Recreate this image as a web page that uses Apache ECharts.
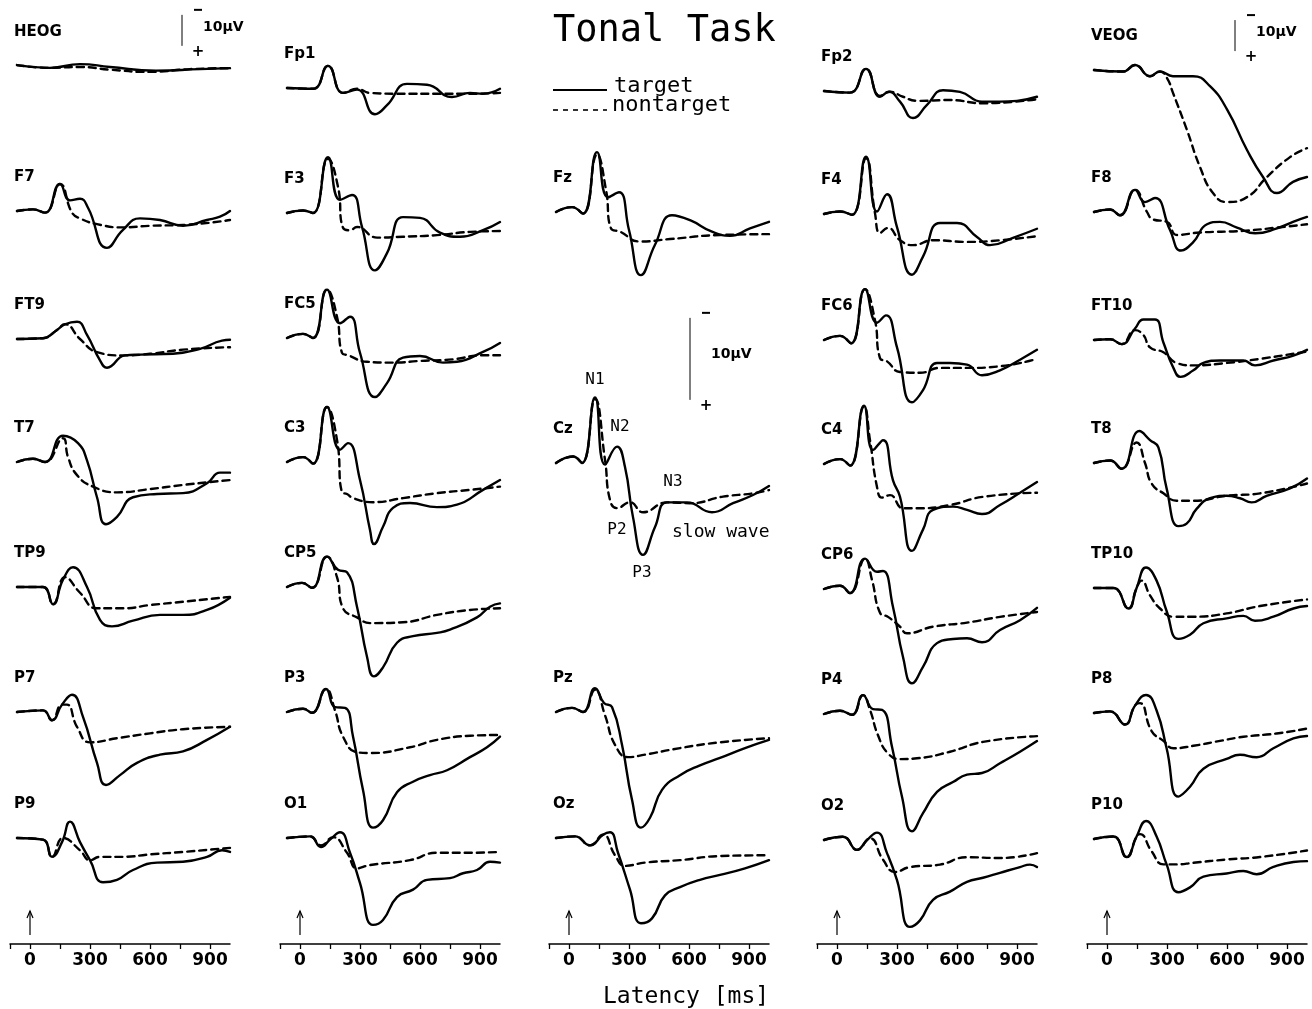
<!DOCTYPE html>
<html>
<head>
	<meta charset="utf-8">
	<title>Tonal Task</title>
	<style>html, body { margin: 0; padding: 0; background: #fff; }</style>
</head>
<body>
<script type="text/javascript" src="https://cdn.jsdelivr.net/npm/echarts@6/dist/echarts.min.js"></script>
<div id="container" style="width: 1312px;height: 1009px;"></div>
<script type="text/javascript">
    // each wave: [latency ms, amplitude µV], negative plotted up
    var HEOG_t = [[-65,-0.3],[100,0.6],[250,-0.6],[400,0.3],[630,1.5],[850,1.0],[1000,0.7]];
    var HEOG_n = [[-65,-0.3],[100,0.6],[250,0.3],[400,1.2],[600,1.9],[800,1.0],[1000,0.7]];
    var F7_t = [[-65,0],[15,-0.2],[75,0.2],[150,-3.3],[200,-1.3],[250,-1.5],[290,-0.4],[385,4.5],[465,2.3],[550,0.9],[650,1.1],[765,1.8],[885,1.1],[950,0.7],[1000,0]];
    var F7_n = [[-65,0],[15,-0.2],[75,0.2],[150,-3.3],[210,0.2],[250,0.9],[335,1.6],[465,2.0],[600,1.8],[765,1.7],[1000,1.1]];
    var FT9_t = [[-65,0],[65,-0.1],[135,-1.1],[175,-1.8],[235,-2.1],[285,-0.5],[350,2.6],[385,3.5],[475,2.0],[550,1.9],[715,1.8],[850,1.2],[960,0.2],[1000,0.1]];
    var FT9_n = [[-65,0],[65,-0.1],[135,-1.1],[175,-1.8],[250,0],[335,1.6],[465,2.0],[600,1.8],[765,1.3],[1000,1.0]];
    var T7_t = [[-65,0],[15,-0.4],[75,0],[165,-3.2],[240,-2.3],[285,-0.2],[335,4.3],[380,7.6],[435,6.7],[515,4.3],[635,3.9],[765,3.8],[885,2.6],[950,1.3],[1000,1.3]];
    var T7_n = [[-65,0],[15,-0.4],[75,0],[165,-2.9],[190,-0.6],[235,1.6],[315,3.0],[435,3.7],[600,3.3],[765,2.8],[1000,2.2]];
    var TP9_t = [[-65,0],[65,0],[115,2.1],[165,-0.9],[215,-2.4],[285,0],[350,4.0],[410,4.8],[515,4.1],[650,3.4],[765,3.4],[885,2.8],[1000,1.3]];
    var TP9_n = [[-65,0],[65,0],[115,2.1],[175,-1.2],[250,0.7],[335,2.6],[465,2.6],[600,2.2],[765,1.8],[1000,1.2]];
    var P7_t = [[-65,0],[65,-0.2],[110,1.0],[160,-0.9],[210,-2.1],[265,0.6],[335,6.2],[380,8.9],[450,7.7],[535,6.2],[650,5.2],[765,4.8],[885,3.4],[1000,1.8]];
    var P7_n = [[-65,0],[65,-0.2],[110,1.0],[160,-0.9],[185,-0.9],[235,1.8],[300,3.7],[435,3.2],[600,2.6],[765,2.1],[1000,1.8]];
    var P9_t = [[-65,0],[65,0.2],[110,2.3],[160,0.5],[200,-2.0],[250,0.5],[300,2.7],[365,5.4],[435,5.1],[515,3.9],[635,3.0],[765,2.9],[885,2.3],[960,1.5],[1000,1.7]];
    var P9_n = [[-65,0],[65,0.2],[110,2.3],[165,0.0],[250,1.5],[300,2.7],[350,2.3],[465,2.3],[600,2.0],[765,1.7],[1000,1.2]];

    var Fp1_t = [[-65,0],[65,0.1],[140,-2.7],[215,0.6],[285,0.2],[375,3.2],[435,2.1],[535,-0.5],[635,-0.4],[760,1.1],[850,0.6],[915,0.7],[1000,0.1]];
    var Fp1_n = [[-65,0],[65,0.1],[140,-2.7],[215,0.6],[285,0.1],[350,0.6],[515,0.7],[685,0.7],[850,0.7],[1000,0.6]];
    var F3_t = [[-65,0],[15,-0.3],[65,0],[140,-6.8],[200,-1.6],[260,-2.2],[310,1.7],[375,7.0],[435,4.9],[515,0.5],[600,0.6],[700,2.4],[800,2.9],[915,2.1],[1000,1.1]];
    var F3_n = [[-65,0],[15,-0.3],[65,0],[140,-6.6],[190,-3.2],[215,1.8],[250,2.1],[285,1.7],[385,3.0],[515,2.9],[685,2.7],[850,2.3],[1000,2.2]];
    var FC5_t = [[-65,0],[15,-0.5],[65,0],[135,-5.9],[200,-1.8],[250,-2.6],[300,1.8],[375,7.2],[435,5.5],[515,2.4],[600,2.2],[715,3.0],[785,2.9],[915,1.7],[1000,0.6]];
    var FC5_n = [[-65,0],[15,-0.5],[65,0],[135,-5.9],[185,-2.6],[210,1.8],[240,2.1],[335,2.9],[465,3.0],[600,2.8],[765,2.6],[915,2.1],[1000,2.1]];
    var C3_t = [[-65,0],[15,-0.6],[65,0.2],[135,-6.7],[200,-1.5],[240,-2.3],[300,2.2],[350,8.3],[370,10.0],[415,7.9],[465,5.6],[550,5.0],[685,5.5],[785,5.2],[915,3.4],[1000,2.2]];
    var C3_n = [[-65,0],[15,-0.6],[65,0.2],[135,-6.7],[185,-2.7],[210,3.7],[235,3.9],[265,4.4],[365,4.9],[515,4.4],[685,3.8],[850,3.4],[1000,3.0]];
    var CP5_t = [[-65,0],[10,-0.5],[60,0.1],[135,-3.7],[190,-2.1],[235,-1.8],[285,2.4],[335,8.5],[370,10.9],[415,9.8],[485,6.8],[565,6.0],[685,5.6],[750,5.2],[885,3.7],[950,2.4],[1000,2.0]];
    var CP5_n = [[-65,0],[10,-0.5],[60,0.1],[135,-3.7],[185,-1.2],[215,2.6],[285,3.7],[350,4.4],[515,4.3],[685,3.4],[850,2.8],[1000,2.6]];
    var P3_t = [[-65,0],[15,-0.4],[60,0.1],[130,-2.8],[175,-0.6],[225,-0.5],[265,3.0],[315,9.5],[365,14.1],[415,13.2],[485,9.8],[565,8.5],[650,7.7],[735,7.1],[850,5.5],[935,4.3],[1000,3.0]];
    var P3_n = [[-65,0],[15,-0.4],[60,0.1],[130,-2.8],[175,-0.2],[215,3.0],[285,4.9],[350,5.0],[550,4.3],[685,3.4],[850,2.9],[1000,2.8]];
    var O1_t = [[-65,0],[50,-0.2],[105,1.1],[150,0.2],[200,-0.7],[250,1.8],[300,5.5],[365,10.6],[415,10.0],[485,7.2],[565,6.3],[635,5.1],[750,4.9],[815,4.3],[885,3.9],[950,2.9],[1000,3.0]];
    var O1_n = [[-65,0],[50,-0.2],[105,0.9],[165,-0.1],[235,1.8],[285,3.7],[350,3.3],[550,2.7],[685,1.8],[850,1.8],[1000,1.7]];

    var Fz_t = [[-65,0],[15,-0.6],[70,0.2],[140,-7.3],[195,-1.8],[250,-2.4],[300,2.2],[360,7.7],[430,4.0],[515,0.4],[605,1.0],[715,2.4],[805,2.9],[905,2.0],[1000,1.2]];
    var Fz_n = [[-65,0],[15,-0.6],[70,0.2],[140,-7.0],[185,-2.7],[210,2.0],[255,2.4],[355,3.6],[505,3.3],[755,2.8],[1000,2.7]];
    var Cz_t = [[-65,0],[20,-0.8],[65,0],[130,-8.0],[180,0.2],[240,-2.0],[280,0.5],[320,6.6],[370,11.2],[430,7.8],[490,4.8],[590,4.8],[715,6.0],[820,4.9],[920,3.9],[1000,2.8]];
    var Cz_n = [[-65,0],[20,-0.8],[65,0],[130,-7.8],[180,-0.4],[205,4.5],[240,5.5],[305,4.8],[370,6.0],[490,4.8],[605,4.9],[770,4.1],[920,3.7],[1000,3.3]];
    var Pz_t = [[-65,0],[15,-0.5],[70,0],[130,-2.9],[175,-1.1],[215,-0.6],[265,4.0],[315,10.7],[360,14.1],[405,12.9],[465,9.5],[555,7.7],[655,6.5],[755,5.6],[880,4.4],[1000,3.4]];
    var Pz_n = [[-65,0],[15,-0.5],[70,0],[130,-2.7],[180,0.4],[230,4.0],[295,5.5],[380,5.2],[555,4.4],[755,3.7],[1000,3.2]];
    var Oz_t = [[-65,0],[30,-0.2],[105,0.9],[170,-0.4],[205,-0.7],[245,1.8],[305,6.3],[360,10.4],[415,9.8],[480,7.0],[555,6.0],[655,5.1],[755,4.5],[880,3.7],[1000,2.7]];
    var Oz_n = [[-65,0],[30,-0.2],[105,0.9],[170,-0.4],[230,2.1],[280,3.4],[380,3.0],[555,2.7],[755,2.2],[1000,2.1]];

    var Fp2_t = [[-65,0],[65,0.2],[145,-2.7],[215,0.7],[260,0.1],[315,1.3],[380,3.3],[450,1.7],[530,-0.1],[615,0.1],[725,1.3],[815,1.3],[900,1.2],[1000,0.7]];
    var Fp2_n = [[-65,0],[65,0.2],[145,-2.7],[215,0.6],[265,0.1],[330,0.7],[400,1.2],[565,1.1],[730,1.5],[1000,1.0]];
    var F4_t = [[-65,0],[15,-0.3],[75,0.1],[145,-7.0],[200,-0.3],[250,-2.4],[300,1.6],[375,7.4],[430,5.2],[515,1.1],[600,1.1],[700,2.8],[765,3.8],[880,2.9],[1000,1.8]];
    var F4_n = [[-65,0],[15,-0.3],[75,0.1],[145,-6.8],[190,-0.1],[215,2.3],[255,1.7],[315,3.2],[380,3.8],[480,3.2],[650,3.4],[815,3.2],[1000,2.7]];
    var FC6_t = [[-65,0],[15,-0.5],[70,0.4],[140,-6.2],[200,-2.1],[245,-3.0],[300,0.9],[375,7.6],[430,6.1],[500,2.8],[565,2.8],[650,3.0],[725,4.3],[815,3.7],[915,2.4],[1000,1.2]];
    var FC6_n = [[-65,0],[15,-0.5],[70,0.4],[140,-6.2],[190,-2.4],[215,2.2],[250,2.6],[315,3.9],[415,4.0],[515,3.4],[650,3.4],[815,3.2],[1000,2.3]];
    var C4_t = [[-65,0],[15,-0.6],[65,0.2],[135,-7.1],[180,-1.7],[230,-2.9],[280,2.0],[315,4.0],[375,10.6],[430,8.0],[480,5.6],[580,5.2],[650,5.6],[725,6.1],[815,5.0],[915,3.5],[1000,2.2]];
    var C4_n = [[-65,0],[15,-0.6],[65,0.2],[135,-7.0],[165,-2.9],[200,2.8],[225,4.1],[265,3.8],[330,5.4],[400,5.4],[565,5.0],[730,4.0],[1000,3.5]];
    var CP6_t = [[-65,0],[15,-0.4],[65,0.5],[140,-3.7],[200,-2.1],[230,-2.2],[280,2.2],[330,8.3],[375,11.5],[430,9.5],[500,6.6],[580,6.1],[650,6.0],[725,6.5],[815,5.0],[915,3.8],[1000,2.3]];
    var CP6_n = [[-65,0],[15,-0.4],[65,0.5],[140,-3.7],[175,-1.1],[215,2.9],[255,3.4],[315,4.6],[350,5.4],[480,4.6],[650,4.1],[815,3.4],[1000,2.8]];
    var P4_t = [[-65,0],[15,-0.4],[75,0.1],[130,-2.3],[180,-0.6],[225,-0.5],[275,4.0],[325,10.1],[375,14.3],[430,12.1],[500,9.5],[580,8.3],[650,7.4],[725,7.2],[815,6.0],[915,4.6],[1000,3.3]];
    var P4_n = [[-65,0],[15,-0.4],[75,0.1],[130,-2.3],[165,-0.5],[205,2.6],[255,4.8],[315,5.5],[400,5.4],[565,4.6],[730,3.4],[1000,2.7]];
    var O2_t = [[-65,0],[30,-0.4],[100,1.2],[150,0],[200,-0.9],[250,1.6],[300,4.9],[365,10.6],[415,9.8],[480,7.3],[565,6.3],[650,5.1],[730,4.6],[815,4.0],[915,3.3],[965,3.0],[1000,3.3]];
    var O2_n = [[-65,0],[30,-0.4],[100,1.2],[165,-0.2],[230,2.4],[290,3.9],[365,3.3],[515,3.0],[650,2.1],[815,2.2],[1000,1.6]];

    var VEOG_t = [[-65,0],[80,0.5],[140,-1.6],[215,2.0],[265,0.5],[330,2.0],[430,2.0],[515,5.2],[600,12.7],[700,25.8],[780,34.5],[850,39.7],[930,36.1],[1000,34.5]];
    var VEOG_n = [[-65,0],[80,0.5],[140,-1.6],[215,2.0],[265,0.5],[300,2.6],[330,7.4],[400,19.4],[465,31.3],[530,39.7],[600,42.6],[700,41.0],[800,34.5],[915,28.1],[1000,25.2]];
    var F8_t = [[-65,0],[15,-0.3],[65,0.4],[140,-2.7],[190,-1.2],[240,-1.7],[315,2.2],[370,4.7],[430,3.7],[500,1.5],[565,1.2],[650,1.9],[740,2.6],[850,2.0],[930,1.2],[1000,0.6]];
    var F8_n = [[-65,0],[15,-0.3],[65,0.4],[140,-2.7],[200,0.0],[230,0.9],[300,1.2],[350,2.8],[465,2.5],[680,2.3],[850,1.9],[1000,1.5]];
    var FT10_t = [[-65,0],[15,-0.1],[73,0.5],[140,-1.4],[182,-2.5],[240,-2.5],[282,0.3],[332,3.4],[368,4.5],[432,3.7],[482,2.8],[565,2.5],[682,2.5],[740,3.1],[832,2.5],[932,1.9],[1000,1.2]];
    var FT10_n = [[-65,0],[15,-0.1],[73,0.5],[140,-1.2],[182,-0.6],[215,0.9],[282,1.5],[348,2.8],[432,3.1],[598,2.8],[765,2.3],[1000,1.4]];
    var T8_t = [[-65,0],[15,-0.3],[73,0.7],[162,-3.9],[215,-2.8],[257,-1.9],[298,3.1],[357,7.7],[398,7.4],[448,5.6],[515,4.3],[598,4.0],[665,4.3],[723,4.8],[798,4.0],[915,3.1],[1000,1.9]];
    var T8_n = [[-65,0],[15,-0.3],[73,0.7],[148,-2.5],[190,0],[223,2.5],[282,3.7],[348,4.6],[432,4.6],[598,4.0],[765,3.7],[1000,2.5]];
    var TP10_t = [[-65,0],[32,0],[107,2.5],[148,0],[195,-2.5],[248,-0.9],[298,2.8],[357,6.2],[415,5.7],[482,4.3],[598,3.7],[682,3.4],[740,4.0],[832,3.5],[932,2.5],[1000,2.2]];
    var TP10_n = [[-65,0],[32,0],[107,2.5],[148,0],[173,-0.9],[215,0.9],[265,2.5],[332,3.5],[432,3.5],[598,3.1],[765,2.2],[1000,1.4]];
    var P8_t = [[-65,0],[15,-0.2],[90,1.4],[140,-0.9],[195,-2.2],[248,-0.3],[298,4.3],[357,10.2],[415,9.0],[482,6.8],[598,5.6],[665,5.1],[748,5.4],[832,4.3],[932,3.1],[1000,2.8]];
    var P8_n = [[-65,0],[15,-0.2],[90,1.4],[140,-0.9],[165,-1.2],[223,2.2],[282,3.4],[332,4.3],[432,4.0],[565,3.4],[682,2.9],[848,2.5],[1000,1.9]];
    var P10_t = [[-65,0],[32,-0.3],[98,2.2],[148,-0.3],[195,-2.2],[248,-0.3],[298,3.1],[357,6.5],[415,5.9],[482,4.6],[598,4.2],[682,3.9],[748,4.3],[832,3.4],[932,2.8],[1000,2.7]];
    var P10_n = [[-65,0],[32,-0.3],[98,2.2],[148,-0.3],[165,-0.6],[223,1.5],[282,3.1],[348,3.1],[432,2.9],[598,2.5],[765,2.2],[1000,1.4]];

    var latencyTicks = [-100, 0, 150, 300, 450, 600, 750, 900];
    var latencyLabels = [0, 300, 600, 900];

    var waves = {
        HEOG: [HEOG_t, HEOG_n], F7: [F7_t, F7_n], FT9: [FT9_t, FT9_n], T7: [T7_t, T7_n],
        TP9: [TP9_t, TP9_n], P7: [P7_t, P7_n], P9: [P9_t, P9_n],
        Fp1: [Fp1_t, Fp1_n], F3: [F3_t, F3_n], FC5: [FC5_t, FC5_n], C3: [C3_t, C3_n],
        CP5: [CP5_t, CP5_n], P3: [P3_t, P3_n], O1: [O1_t, O1_n],
        Fz: [Fz_t, Fz_n], Cz: [Cz_t, Cz_n], Pz: [Pz_t, Pz_n], Oz: [Oz_t, Oz_n],
        Fp2: [Fp2_t, Fp2_n], F4: [F4_t, F4_n], FC6: [FC6_t, FC6_n], C4: [C4_t, C4_n],
        CP6: [CP6_t, CP6_n], P4: [P4_t, P4_n], O2: [O2_t, O2_n],
        VEOG: [VEOG_t, VEOG_n], F8: [F8_t, F8_n], FT10: [FT10_t, FT10_n], T8: [T8_t, T8_n],
        TP10: [TP10_t, TP10_n], P8: [P8_t, P8_n], P10: [P10_t, P10_n]
    };

    // layout: pixel x of 0 ms per column, baseline y per panel
    var colX = [30, 300, 569, 837, 1107];
    var panels = [
        ['HEOG', 0, 66], ['F7', 0, 211], ['FT9', 0, 339], ['T7', 0, 462], ['TP9', 0, 587], ['P7', 0, 712], ['P9', 0, 838],
        ['Fp1', 1, 88], ['F3', 1, 213], ['FC5', 1, 338], ['C3', 1, 462], ['CP5', 1, 587], ['P3', 1, 712], ['O1', 1, 838],
        ['Fz', 2, 212], ['Cz', 2, 463], ['Pz', 2, 712], ['Oz', 2, 838],
        ['Fp2', 3, 91], ['F4', 3, 214], ['FC6', 3, 340], ['C4', 3, 464], ['CP6', 3, 589], ['P4', 3, 714], ['O2', 3, 840],
        ['VEOG', 4, 70], ['F8', 4, 212], ['FT10', 4, 340], ['T8', 4, 463], ['TP10', 4, 588], ['P8', 4, 713], ['P10', 4, 839]
    ];
    var eog = ['HEOG', 'VEOG'];
    var MS_PX = 0.2, EEG_PX = 8.2, EOG_PX = 3.1;

    var myChart = echarts.init(document.getElementById('container'));
    var grids = [], xAxes = [], yAxes = [], series = [];

    function wave(data, idx, name, type) {
        return {
            name: name, type: 'line', xAxisIndex: idx, yAxisIndex: idx,
            data: data, smooth: 0.5, symbol: 'none', showSymbol: false,
            clip: false, silent: true, animation: false,
            lineStyle: { color: '#000', width: 2.4, type: type, cap: 'round', join: 'round' }
        };
    }

    panels.forEach(function (p, i) {
        var isEog = eog.indexOf(p[0]) >= 0;
        var k = isEog ? EOG_PX : EEG_PX;
        var yMin = isEog ? -20 : -12, yMax = isEog ? 60 : 18;
        grids.push({
            left: colX[p[1]] - 100 * MS_PX, width: 1100 * MS_PX,
            top: p[2] + yMin * k, height: (yMax - yMin) * k,
            outerBoundsMode: 'none', containLabel: false
        });
        xAxes.push({ type: 'value', gridIndex: i, min: -100, max: 1000, show: false });
        yAxes.push({ type: 'value', gridIndex: i, min: yMin, max: yMax, inverse: true, show: false });
        series.push(wave(waves[p[0]][0], i, 'target', 'solid'));
        series.push(wave(waves[p[0]][1], i, 'nontarget', [7, 5]));
    });

    var axisStart = grids.length;
    colX.forEach(function (x, c) {
        var gi = grids.length;
        grids.push({ left: x - 100 * MS_PX, width: 1100 * MS_PX, top: 844, height: 100, outerBoundsMode: 'none', containLabel: false });
        xAxes.push({
            type: 'value', gridIndex: gi, min: -100, max: 1000, position: 'bottom',
            axisLine: { show: true, onZero: false, lineStyle: { color: '#000', width: 1.5 } },
            axisTick: { show: true, customValues: latencyTicks, length: 5, lineStyle: { color: '#000', width: 1.3 } },
            axisLabel: { show: true, customValues: latencyLabels, color: '#000', fontFamily: 'DejaVu Sans', fontWeight: 'bold', fontSize: 17, margin: 8 },
            splitLine: { show: false }
        });
        yAxes.push({ type: 'value', gridIndex: gi, show: false });
    });

    option = {
        backgroundColor: '#fff',
        animation: false,
        grid: grids,
        xAxis: xAxes,
        yAxis: yAxes,
        series: series
    };
    myChart.setOption(option);

    // decorations placed through the axes
    var g = [];
    function txt(s, x, y, font, align) {
        g.push({ type: 'text', x: x, y: y, silent: true,
            style: { text: s, font: font, fill: '#000', align: align || 'left', verticalAlign: 'middle',
                textAlign: align || 'left', textVerticalAlign: 'middle' } });
    }
    function seg(x1, y1, x2, y2, w) {
        g.push({ type: 'line', silent: true, shape: { x1: x1, y1: y1, x2: x2, y2: y2 }, style: { stroke: '#000', lineWidth: w } });
    }
    var mono = 'DejaVu Sans Mono';

    // channel names
    panels.forEach(function (p) {
        txt(p[0], colX[p[1]] - 16, p[2] - 34, 'bold 15px DejaVu Sans');
    });

    // stimulus arrows
    colX.forEach(function (x, c) {
        var px = myChart.convertToPixel({ xAxisIndex: axisStart + c }, 0);
        seg(px, 935, px, 911, 1.2);
        g.push({ type: 'polyline', silent: true, shape: { points: [[px - 3, 918], [px, 911], [px + 3, 918]] },
            style: { stroke: '#000', fill: null, lineWidth: 1.2 } });
    });

    // 10 µV calibration bars: channel, latency, top amplitude
    var calib = [['HEOG', 760, -16.5, 0.4], ['VEOG', 640, -16.1, 0.4], ['Cz', 605, -17.7, 0.45]];
    calib.forEach(function (b) {
        var gi = panels.map(function (p) { return p[0]; }).indexOf(b[0]);
        var top = myChart.convertToPixel({ gridIndex: gi }, [b[1], b[2]]);
        var bot = myChart.convertToPixel({ gridIndex: gi }, [b[1], b[2] + 10]);
        var len = bot[1] - top[1];
        seg(top[0], top[1], bot[0], bot[1], 1);
        seg(top[0] + 12, top[1] - 5, top[0] + 20, top[1] - 5, 2);
        txt('10\u00b5V', top[0] + 21, top[1] + len * b[3], 'bold 14px DejaVu Sans');
        txt('+', top[0] + 16, bot[1] + 6, 'bold 15px DejaVu Sans', 'center');
    });

    // Cz component labels
    var czIdx = panels.map(function (p) { return p[0]; }).indexOf('Cz');
    var czMarks = [['N1', 130, -10.1], ['N2', 255, -4.4], ['N3', 520, 2.3], ['P2', 240, 8.2], ['P3', 365, 13.4]];
    czMarks.forEach(function (m) {
        var pt = myChart.convertToPixel({ gridIndex: czIdx }, [m[1], m[2]]);
        txt(m[0], pt[0], pt[1], '16px ' + mono, 'center');
    });
    var sw = myChart.convertToPixel({ gridIndex: czIdx }, [515, 8.5]);
    txt('slow wave', sw[0], sw[1], '18px ' + mono);

    // title, legend, axis name
    txt('Tonal Task', 553, 31, '37px ' + mono);
    seg(553, 90, 607, 90, 2);
    g.push({ type: 'line', silent: true, shape: { x1: 553, y1: 110, x2: 607, y2: 110 },
        style: { stroke: '#000', lineWidth: 1.6, lineDash: [5, 5] } });
    txt('target', 614, 86, '22px ' + mono);
    txt('nontarget', 612, 105, '22px ' + mono);
    txt('Latency [ms]', 603, 997, '23px ' + mono);

    myChart.setOption({ graphic: { elements: g } });
    window.addEventListener('resize', myChart.resize);
</script>
</body>
</html>
